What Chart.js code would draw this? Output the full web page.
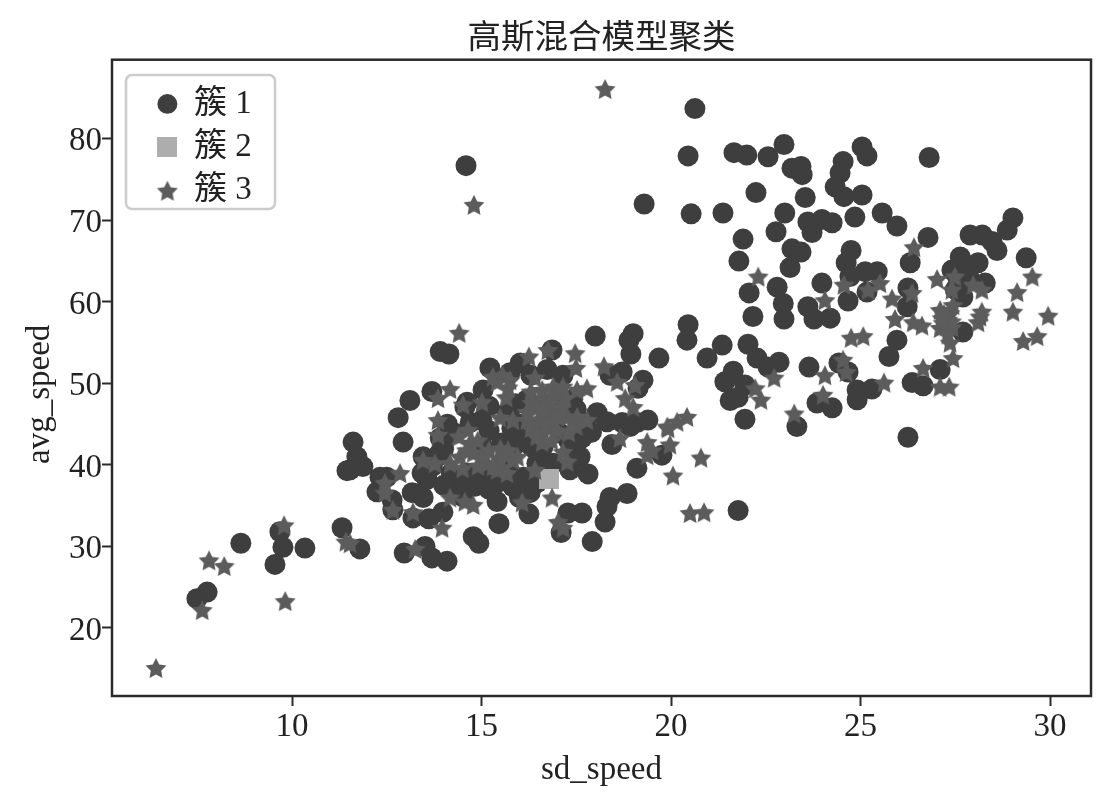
<!DOCTYPE html>
<html><head><meta charset="utf-8">
<style>html,body{margin:0;padding:0;background:#fff}#w{width:1118px;height:802px}canvas{display:block}</style>
<script src="https://cdn.jsdelivr.net/npm/chart.js@4/dist/chart.umd.min.js"></script>
</head><body><div id="w"><canvas id="c" width="1118" height="802"></canvas></div>
<script>
const titleText='高斯混合模型聚类';
const xLabel='sd_speed', yLabel='avg_speed';
const seriesNames=['簇 1','簇 2','簇 3'];
const xTicks=[10,15,20,25,30];
const yTicks=[20,30,40,50,60,70,80];
const cluster1=[[20.45,77.9],[21.66,78.3],[22,78],[22.56,77.8],[22.98,79.3],[23.19,76.4],[23.43,76.6],[23.46,75.6],[24.54,77.2],[24.46,75.8],[24.33,74.1],[24.56,72.9],[25.04,73.1],[25.04,79],[25.17,77.9],[26.81,77.7],[22.24,73.4],[23.54,72.8],[20.53,70.8],[21.37,70.9],[23,70.9],[22.77,68.6],[23.61,69.8],[23.98,70.1],[24.25,69.7],[23.72,68.5],[24.85,70.4],[25.57,70.9],[25.96,69.3],[21.9,67.7],[21.79,65],[23.19,66.5],[23.43,66.1],[23.14,64.2],[24.75,66.3],[24.62,64.8],[25.12,63.7],[25.44,63.7],[24.72,63.1],[26.78,67.9],[26.31,64.8],[26.25,61.7],[26.23,59.4],[25.17,61.2],[24.67,60.1],[23.98,62.3],[22.8,61.8],[22.06,61.1],[22.16,58.2],[22.96,59.8],[22.98,57.9],[23.61,59.4],[23.77,57.9],[24.2,58],[29.02,70.3],[28.87,68.8],[27.89,68.2],[28.21,68.2],[28.47,67.4],[28.6,66.3],[29.37,65.4],[27.63,65.5],[28.1,64.8],[27.41,63.9],[27.81,64.3],[28.29,62.3],[27.7,60.6],[27.7,56.3],[27.5,61.5],[27.9,62.7],[27.57,62.9],[20.45,57.2],[20.42,55.3],[21.35,54.7],[20.95,53.1],[22.03,54.8],[22.27,53.1],[22.56,52],[22.85,52.6],[23.64,52],[24.43,52.5],[24.67,51.4],[25.96,55.3],[25.75,53.3],[21.64,51.5],[21.42,50.2],[21.95,49.8],[21.77,48.3],[21.56,47.9],[21.95,45.6],[23.32,44.7],[23.85,47.6],[24.25,47],[24.91,49.2],[25.3,49.3],[24.91,48],[26.36,50.1],[26.65,49.7],[27.1,51.7],[26.25,43.4],[20.63,83.7],[14.59,76.7],[19.29,72],[13.91,53.9],[14.14,53.6],[16.86,54.1],[18,55.8],[19,56.1],[18.89,55.3],[18.94,53.6],[19.68,53.1],[15.22,51.9],[16.02,52.5],[16.73,51.7],[17.15,51],[15.75,51.3],[13.69,49],[13.11,47.9],[12.8,45.8],[12.93,42.8],[14.62,47.7],[15.04,49.2],[15.01,45.5],[14.56,47.1],[13.91,43.3],[14.3,43.9],[17.12,47.7],[15.67,46.4],[19.26,50.4],[19.13,49.4],[18.71,51.4],[18.39,51],[18.05,46.4],[18.31,45.3],[18.71,45.2],[19.1,45.2],[19.39,45.5],[18.92,44.7],[18.44,42.5],[17.65,43.3],[17.6,41],[17.33,39.4],[17.81,38.9],[19.76,41.2],[19.1,39.6],[18.84,36.5],[18.39,36],[18.31,34.9],[18.26,33],[17.92,30.6],[17.65,34.1],[17.28,34.1],[17.1,31.7],[16.25,34],[15.46,32.8],[15.41,35.5],[16.28,36.6],[15.83,37.3],[14.78,31.2],[14.93,30.4],[14.09,28.2],[13.69,28.6],[13.51,30],[12.96,29.2],[11.79,29.7],[13.61,33.4],[13.98,34.2],[13.19,33.5],[13.17,36.6],[13.46,36],[12.66,34.5],[12.64,35.7],[12.24,36.7],[12.32,38.5],[12.5,38.5],[11.87,39.8],[11.61,42.8],[11.71,41],[11.53,39.4],[14.43,37.2],[14.83,37.4],[14.51,36.1],[13.56,38.2],[13.43,39],[13.46,41],[13.82,41],[15.04,42.2],[15.54,42.7],[15.41,37.8],[16.1,38.5],[16.46,37.8],[16.89,40.2],[16.46,40.2],[17.07,43.9],[16.1,43.4],[16.62,42.2],[16.33,42.2],[16.54,44.7],[8.65,30.4],[10.34,29.8],[9.76,29.9],[9.68,31.8],[9.55,27.8],[7.49,23.6],[7.76,24.4],[11.32,32.3],[11.45,39.3],[21.77,34.4],[15.2,47.2],[16.3,51],[15.9,47.5],[16,45],[16.2,48],[17.4,48],[17.5,46.8],[17.3,43],[17.9,44],[17.4,41.8],[15.8,44.5],[15.2,44.2],[14.7,45.2],[14.1,45],[15.9,42.5],[15.6,40.5],[14.2,39],[14.6,39],[15,38.5],[15.2,37],[15.8,38.8],[16,36],[14,37.5],[13.7,39.8],[14,42],[13.9,41.5]];
const cluster2=[[16.78,38.3]];
const cluster3=[[22.3,63.1],[26.41,66.7],[27.02,62.8],[27.49,63.1],[27.41,61.5],[27.97,62.1],[28.2,61.5],[29.53,63.1],[29.13,61.2],[29.02,58.8],[29.95,58.3],[29.66,55.8],[29.29,55.2],[25.83,60.4],[25.91,57.9],[26.36,61.1],[26.39,57.5],[26.62,57.1],[25.51,62.3],[25.2,61.5],[24.56,62.1],[24.06,60.2],[24.75,55.6],[25.07,55.8],[28.15,58.2],[28.1,57.5],[28.2,58.8],[27.28,58.2],[27.18,57.4],[27.36,58.6],[27.1,56.8],[27.41,56.9],[27.36,55],[27.44,59.6],[27.1,59],[27.44,53.1],[26.65,51.9],[27.1,49.6],[27.34,49.6],[25.62,50.1],[24.06,51],[24.54,52.9],[24.62,51.4],[24.01,48.6],[22.72,50.7],[22.22,49.4],[22.37,48],[23.25,46.3],[20.42,45.9],[20.79,40.9],[18.26,86.1],[14.8,71.9],[14.41,56.2],[6.41,15.1],[7.63,22.2],[7.81,28.3],[8.21,27.6],[9.82,23.3],[9.79,32.6],[11.42,30.6],[20.5,34.1],[20.87,34.2],[20.05,38.7],[19.92,44.5],[19.5,41.8],[16.25,53.3],[16.75,54.1],[17.47,53.7],[17.49,51.9],[18.23,52.1],[18.58,50.2],[19.05,49.8],[18.79,48.2],[19,47.1],[17.78,49.4],[17.52,49.2],[14.17,49.3],[13.85,48.2],[13.85,45.5],[13.85,43.7],[15.01,47.7],[14.51,47.4],[15.65,48.3],[15.41,50.2],[15.75,50.4],[16.41,50.7],[16.89,49.6],[16.62,48],[16.33,47.6],[16.73,46.4],[16.46,45.2],[16.89,45.2],[16.62,43.9],[15.49,45.8],[15.83,45.5],[17.26,45.9],[17.78,45.5],[17.52,45.9],[17.15,49.6],[17.15,41.6],[17.26,40.4],[16.41,39.4],[14.64,44.3],[14.7,42.7],[14.43,41],[14.78,41.5],[14.17,40.2],[13.46,40.6],[13.77,40.2],[15.49,40.6],[15.41,39.4],[15.83,40.6],[15.15,40.2],[15.67,39],[12.85,39],[12.45,37.8],[12.66,34.5],[12.45,36.6],[13.19,34.2],[13.96,32.3],[14.17,36],[14.56,35.5],[14.78,35.1],[13.25,29.7],[16.07,35.4],[16.86,36],[17.02,33],[17.15,32.3],[11.53,30.4],[19.37,42.8],[19.97,42.5],[19.37,41.2],[18.65,43.3],[19.9,44.7],[20.16,45.3],[16.3,49],[16.6,49.2],[16.9,48.5],[17.2,48.2],[16.2,46.5],[16.45,47],[16.8,47.5],[17.1,47],[16.3,44.5],[16.55,45.6],[16.75,44.8],[17,44.2],[17.3,44],[17.5,44.8],[16.6,42.8],[16.85,43],[17,46],[16.65,46.8],[16.45,43.5],[16.2,45.5],[14.9,43],[15.2,41.8],[15.5,42],[15.3,39.8],[15,40.8],[15.7,41.8],[15.95,41],[14.4,43.5],[14.6,41.8],[14.9,39.9],[14.5,39.6],[15.3,50.8],[15.55,51],[15.7,49.5],[27.3,57.8],[27.2,58.5],[27.25,57],[27.4,57.6],[27.15,58],[27.3,56]];
const colors=['#3e3e3e','#adadad','#5c5c5c'];

const serif='"Liberation Serif","Noto Sans CJK SC",serif';
const ink='#222222';
function sprite(size,draw,color){const k=document.createElement('canvas');k.width=k.height=size;const g=k.getContext('2d');g.fillStyle=color;draw(g,size);return k;}
const squareSprite=sprite(20,(g,s)=>g.fillRect(0,0,s,s),colors[1]);
const starSprite=sprite(22,(g,s)=>{const R=s/2,r=R*0.5;g.beginPath();for(let i=0;i<10;i++){const a=-Math.PI/2+i*Math.PI/5,q=i%2?r:R;g.lineTo(R+q*Math.cos(a),R+1+q*Math.sin(a));}g.closePath();g.fill();},colors[2]);
const toPts=a=>a.map(p=>({x:p[0],y:p[1]}));

const frame={id:'frame',
 afterLayout(ch){const l=ch.legend;l.left=147;l.top=77;},
 afterDraw(ch){const g=ch.ctx,a=ch.chartArea;g.save();
  g.strokeStyle='#2b2b2b';g.lineWidth=2.5;g.strokeRect(a.left,a.top,a.right-a.left,a.bottom-a.top);
  g.strokeStyle='#cccccc';g.lineWidth=2.5;g.beginPath();g.roundRect(126,75,149,134,6);g.stroke();g.restore();}};

new Chart(document.getElementById('c'),{type:'scatter',
 data:{datasets:[
  {label:seriesNames[0],data:toPts(cluster1),backgroundColor:colors[0],borderColor:colors[0],pointStyle:'circle',pointRadius:10.5,pointBorderWidth:0,order:2},
  {label:seriesNames[1],data:toPts(cluster2),backgroundColor:colors[1],borderColor:colors[1],pointStyle:squareSprite,pointRadius:10,pointBorderWidth:0,order:1},
  {label:seriesNames[2],data:toPts(cluster3),backgroundColor:colors[2],borderColor:colors[2],pointStyle:starSprite,pointRadius:10,pointBorderWidth:0,order:0}
 ]},
 options:{responsive:false,animation:false,events:[],
  layout:{padding:{top:0,right:27,bottom:0,left:0}},
  plugins:{
   tooltip:{enabled:false},
   title:{display:true,fullSize:false,text:titleText,color:ink,font:{family:serif,size:33.5,weight:'normal'},padding:{top:19,bottom:0.5}},
   legend:{position:'chartArea',align:'start',
    labels:{usePointStyle:true,boxHeight:14,boxWidth:20,pointStyleWidth:20,padding:10.4,color:ink,font:{family:serif,size:33},
     sort:(a,b)=>a.datasetIndex-b.datasetIndex}}
  },
  scales:{
   x:{type:'linear',min:5.25,max:31.08,
    afterBuildTicks:s=>{s.ticks=xTicks.map(v=>({value:v}));},
    afterFit:s=>{s.height=106;},
    grid:{drawOnChartArea:false,drawTicks:true,tickLength:10,tickWidth:2,tickColor:'#2b2b2b'},border:{display:false},
    ticks:{color:ink,font:{family:serif,size:33},padding:2,maxRotation:0,autoSkip:false},
    title:{display:true,text:xLabel,color:ink,font:{family:serif,size:33},padding:{top:0,bottom:12}}},
   y:{type:'linear',min:11.66,max:89.7,
    afterBuildTicks:s=>{s.ticks=yTicks.map(v=>({value:v}));},
    afterFit:s=>{s.width=112;},
    grid:{drawOnChartArea:false,drawTicks:true,tickLength:10,tickWidth:2,tickColor:'#2b2b2b'},border:{display:false},
    ticks:{color:ink,font:{family:serif,size:33},padding:0,labelOffset:3,autoSkip:false},
    title:{display:true,text:yLabel+'    ',color:ink,font:{family:serif,size:33},padding:{top:21,bottom:0}}}
  }},
 plugins:[frame]});
</script></body></html>
